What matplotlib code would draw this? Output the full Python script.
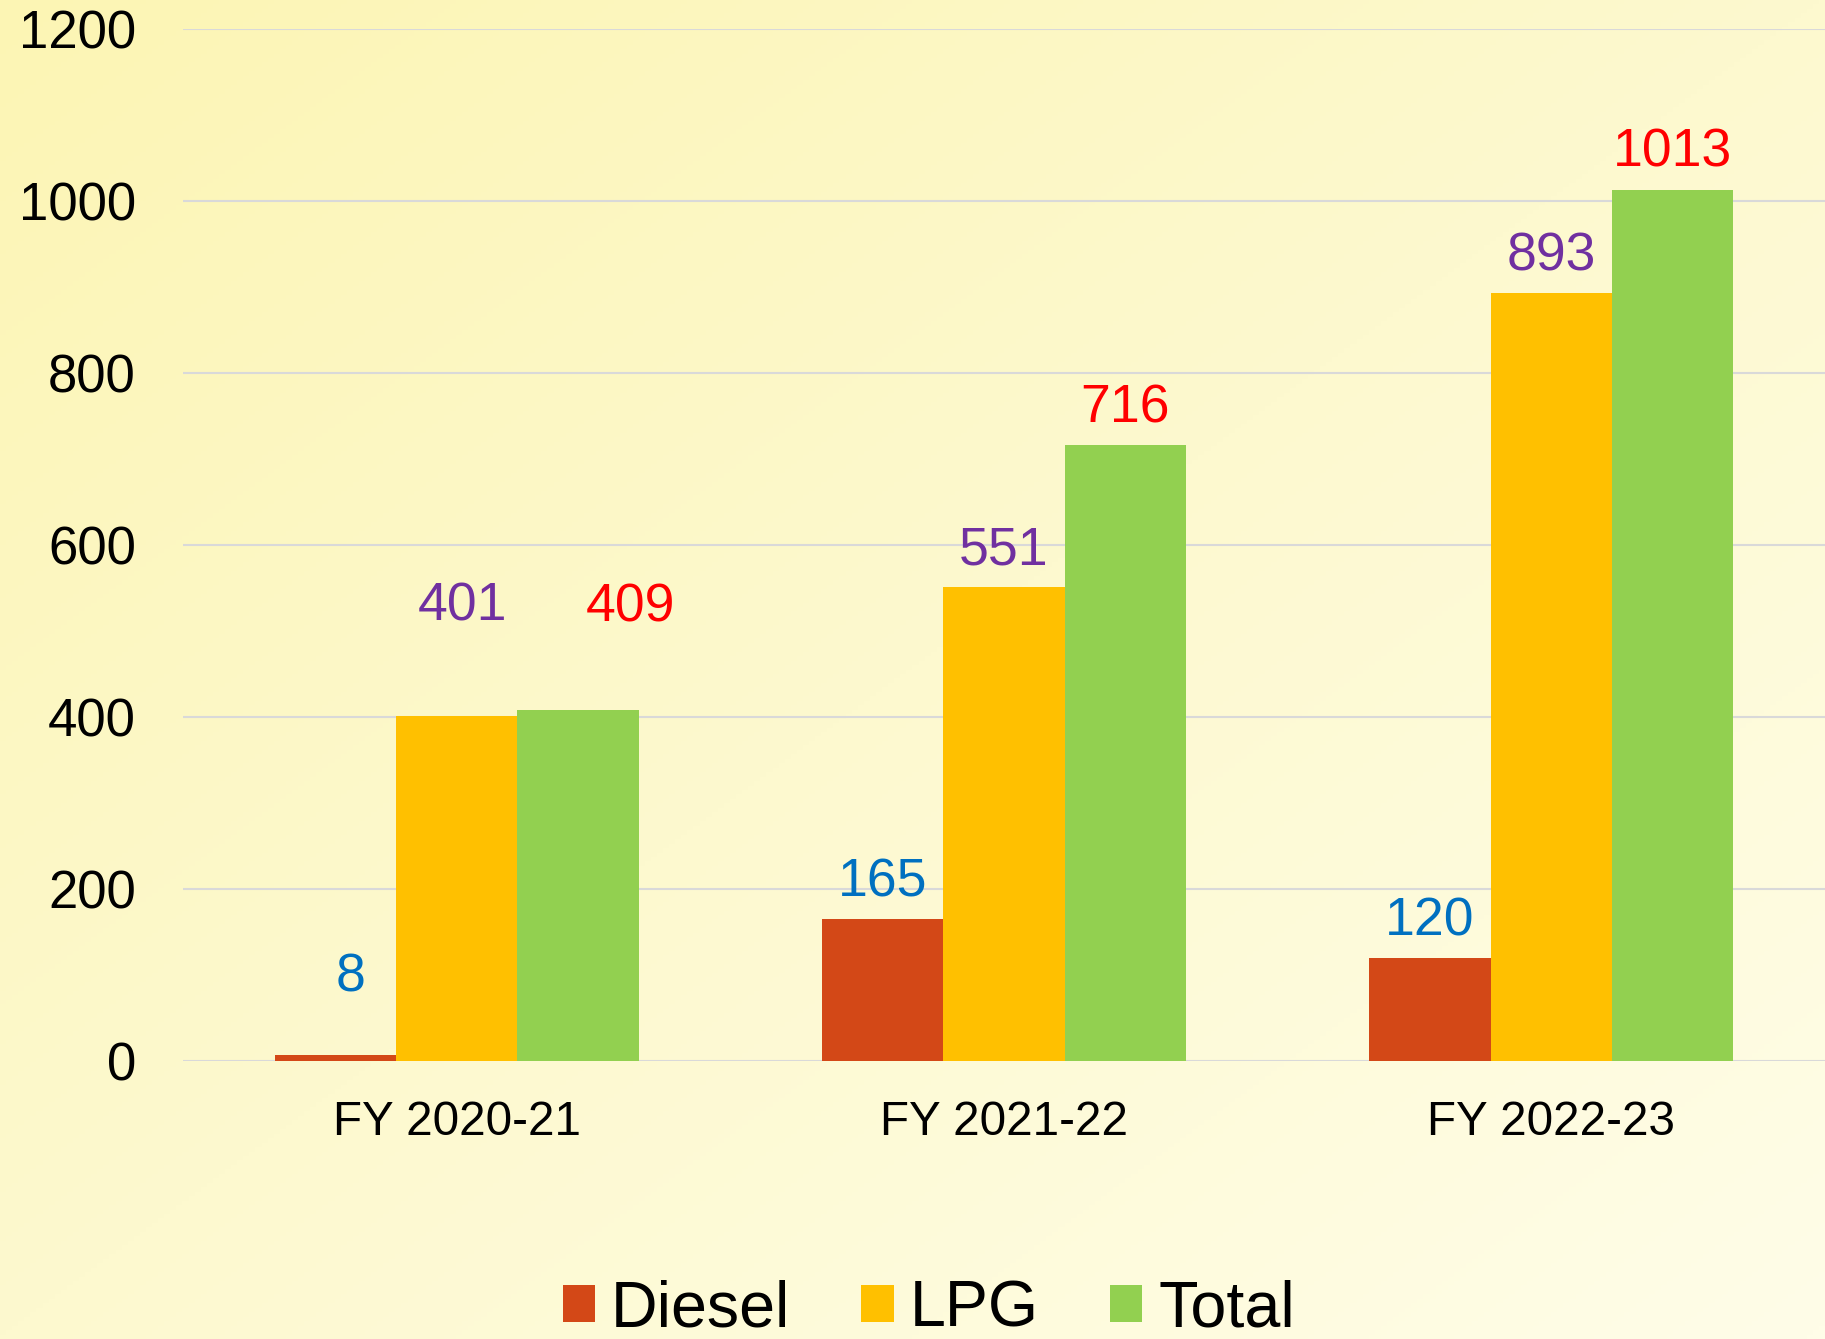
import numpy as np
import matplotlib
matplotlib.use("Agg")
import matplotlib.pyplot as plt
from matplotlib.colors import LinearSegmentedColormap

categories = ["FY 2020-21", "FY 2021-22", "FY 2022-23"]
diesel = [8, 165, 120]
lpg = [401, 551, 893]
total = [409, 716, 1013]
series_names = ["Diesel", "LPG", "Total"]
y_ticks = [0, 200, 400, 600, 800, 1000, 1200]

plt.rcParams['font.family'] = ['Liberation Sans', 'DejaVu Sans']

W, H = 1825, 1339
fig = plt.figure(figsize=(W / 100, H / 100), dpi=100)

# background gradient (top-left yellow -> bottom-right pale cream)
bg = fig.add_axes([0, 0, 1, 1], zorder=-10)
xx, yy = np.meshgrid(np.linspace(0, 1, 300), np.linspace(0, 1, 300))
g = np.clip((xx + (1 - yy)) / 2.0, 0, 1)
cmap = LinearSegmentedColormap.from_list("bg", ["#FCF5B4", "#FDF9CF", "#FFFDE8"])
bg.imshow(g, cmap=cmap, origin="lower", extent=[0, 1, 0, 1], aspect="auto")
bg.axis("off")

ax = fig.add_axes([0.1003, 0.2073, 0.8997, 0.7710])
ax.patch.set_alpha(0)

colors = ["#D34817", "#FFC000", "#92D050"]
label_colors = ["#0070C0", "#7030A0", "#FF0000"]
data = [diesel, lpg, total]
x = np.arange(len(categories))
bw = 0.2216
offs = [-bw, 0, bw]

# label placement tweaks (pixel offsets) for first group
dx_px = {(0, 0): 15, (1, 0): 6, (2, 0): 52}
dy_px = {(0, 0): 77, (1, 0): 110, (2, 0): 102}

for si, (vals, c, lc, nm) in enumerate(zip(data, colors, label_colors, series_names)):
    ax.bar(x + offs[si], vals, width=bw, color=c, label=nm, zorder=3, linewidth=0)
    for ci, v in enumerate(vals):
        dx = dx_px.get((si, ci), 0) * 0.72
        dy = dy_px.get((si, ci), 37) * 0.72
        ax.annotate(str(v), (x[ci] + offs[si], v), xytext=(dx, dy),
                    textcoords="offset points", ha="center", va="center",
                    fontsize=38.5, color=lc, zorder=4)

ax.set_xlim(-0.5, 2.5)
ax.set_ylim(0, 1200)
ax.set_yticks(y_ticks)
ax.set_xticks(x)
ax.set_xticklabels(categories)
ax.tick_params(axis="y", length=0, labelsize=38, pad=34)
ax.tick_params(axis="x", length=0, labelsize=34.3, pad=28)
for s in ax.spines.values():
    s.set_visible(False)
ax.yaxis.grid(True, color="#D9D9D9", linewidth=1.5, zorder=0)
ax.set_axisbelow(True)

fig.legend(loc="center", bbox_to_anchor=(0.509, 0.022), ncol=3, frameon=False,
           fontsize=46.5, handlelength=0.5, handleheight=0.5, handletextpad=0.25,
           columnspacing=1.1, borderaxespad=0)

fig.savefig("out.png", dpi=100)
